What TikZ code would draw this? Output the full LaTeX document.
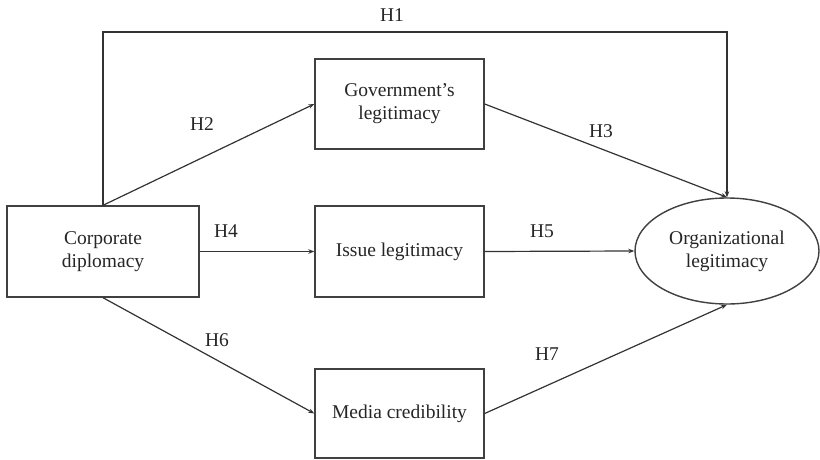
\documentclass[tikz,border=0pt]{standalone}
\usepackage{fontspec}
\setmainfont{Liberation Serif}
\usetikzlibrary{arrows.meta,shapes.geometric}
\begin{document}
\begin{tikzpicture}[x=1pt,y=-1pt,
  every node/.style={font=\fontsize{19.5}{23}\selectfont,text=black!85},
  box/.style={draw=black!75,line width=1.4pt,rectangle,inner sep=0pt,align=center},
  oval/.style={draw=black!75,line width=1.4pt,ellipse,inner sep=0pt,align=center,minimum width=184pt,minimum height=106pt},
  conn/.style={draw=black!80,line width=1.2pt,-{Stealth[length=6pt,width=4.5pt]}},
  hyp/.style={inner sep=0pt}]
\useasboundingbox[fill=white] (0,0) rectangle (820,460);
\node[box,minimum width=192pt,minimum height=91pt] (corp) at (103,251.5) {Corporate\\diplomacy};
\node[box,minimum width=169pt,minimum height=90pt] (gov) at (399.5,104) {Government’s\\legitimacy};
\node[box,minimum width=169pt,minimum height=91pt] (issue) at (399.5,251.5) {Issue legitimacy};
\node[box,minimum width=169pt,minimum height=89pt] (media) at (399.5,413.5) {Media credibility};
\node[oval] (org) at (727,251) {Organizational\\legitimacy};
\coordinate (h1top) at (727,32);
\draw[conn] (corp.north) |- (h1top) -- (org.north);
\draw[conn] (corp.north) -- (gov.west);
\draw[conn] (gov.east) -- (org.north);
\draw[conn] (corp.east) -- (issue.west);
\draw[conn] (issue.east) -- (org.west);
\draw[conn] (corp.south) -- (media.west);
\draw[conn] (media.east) -- (org.south);
\node[hyp] (l1) at (392,15) {H1};
\node[hyp] (l2) at (202,124) {H2};
\node[hyp] (l3) at (601,131) {H3};
\node[hyp] (l4) at (226,231) {H4};
\node[hyp] (l5) at (542,231) {H5};
\node[hyp] (l6) at (217,340) {H6};
\node[hyp] (l7) at (547,354) {H7};
\end{tikzpicture}
\end{document}
